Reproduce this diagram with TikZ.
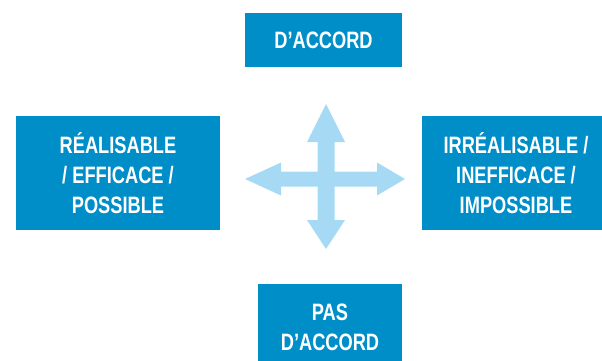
\documentclass[tikz,border=0pt]{standalone}
\usepackage{fontspec}
\newfontfamily\boxfont{Liberation Sans}[FakeStretch=0.77]
\definecolor{boxblue}{RGB}{0,142,200}
\definecolor{arrowblue}{RGB}{166,218,244}
\begin{document}
\begin{tikzpicture}[x=1pt,y=-1pt,
  box/.style={fill=boxblue,draw=none,inner sep=0pt,text=white,align=center,
    font=\boxfont\bfseries\fontsize{23.7}{30}\selectfont}]
\useasboundingbox (0,0) rectangle (602,360);
\clip (0,0) rectangle (602,360);
\node[box,minimum width=157pt,minimum height=54pt] (top) at (323.5,40) {D’ACCORD};
\node[box,minimum width=204pt,minimum height=114pt] (left) at (118,173) {RÉALISABLE\\/ EFFICACE /\\POSSIBLE};
\node[box,minimum width=188pt,minimum height=114pt] (right) at (516,173) {IRRÉALISABLE /\\INEFFICACE /\\IMPOSSIBLE};
\node[box,minimum width=144pt,minimum height=86pt] (bottom) at (330,327) {PAS\\D’ACCORD};
\coordinate (c) at (326,179);
\fill[arrowblue] (326,104) -- (345,142) -- (334.5,142) -- (334.5,171.5) -- (377,171.5) -- (377,162.5)
  -- (405,179) -- (377,195.5) -- (377,186.5) -- (334.5,186.5) -- (334.5,220) -- (345,220)
  -- (326,249) -- (307,220) -- (317.5,220) -- (317.5,186.5) -- (281,186.5) -- (281,195.5)
  -- (245,179) -- (281,162.5) -- (281,171.5) -- (317.5,171.5) -- (317.5,142) -- (307,142) -- cycle;
\end{tikzpicture}
\end{document}
